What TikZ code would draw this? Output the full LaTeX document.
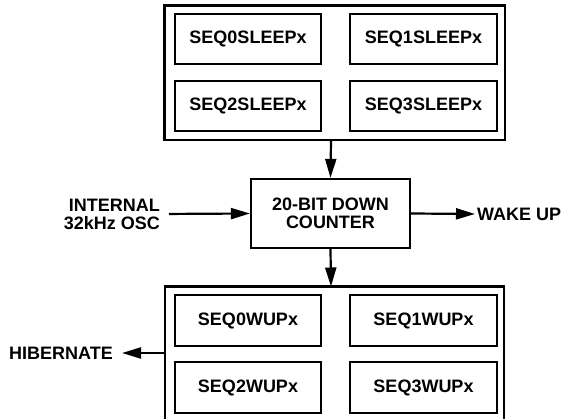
\documentclass[tikz,border=0pt]{standalone}
\usepackage{fontspec}
\setmainfont{Liberation Sans}
\usetikzlibrary{arrows.meta}
\begin{document}
\begin{tikzpicture}[x=1pt,y=-1pt,
  box/.style={draw,line width=2.2pt},
  lbl/.style={font=\bfseries\fontsize{18}{18}\selectfont,inner sep=0pt,align=center},
  arr/.style={line width=2.2pt,-{Triangle[length=19pt,width=11pt]}}]
\useasboundingbox (0,0) rectangle (571,419);
% top group
\draw[box] (164.5,5.5) rectangle (505,140);
\coordinate (topS) at (331,140);
\node[box,minimum width=146pt,minimum height=50pt,lbl] (s0) at (248,39) {SEQ0SLEEPx};
\node[box,minimum width=147pt,minimum height=50pt,lbl] (s1) at (423.5,39) {SEQ1SLEEPx};
\node[box,minimum width=146pt,minimum height=50pt,lbl] (s2) at (248,106) {SEQ2SLEEPx};
\node[box,minimum width=147pt,minimum height=50pt,lbl] (s3) at (423.5,106) {SEQ3SLEEPx};
% counter
\node[box,minimum width=159pt,minimum height=69pt,lbl] (cnt) at (330.5,213.5) {20-BIT DOWN\\COUNTER};
% bottom group
\draw[box] (165,286.5) rectangle (504,430);
\coordinate (botN) at (331,286.5);
\coordinate (botW) at (165,353);
\node[box,minimum width=146pt,minimum height=51pt,lbl] (w0) at (248,320.5) {SEQ0WUPx};
\node[box,minimum width=147pt,minimum height=51pt,lbl] (w1) at (423.5,320.5) {SEQ1WUPx};
\node[box,minimum width=146pt,minimum height=51pt,lbl] (w2) at (248,387.5) {SEQ2WUPx};
\node[box,minimum width=147pt,minimum height=51pt,lbl] (w3) at (423.5,387.5) {SEQ3WUPx};
% labels
\node[lbl,anchor=east,align=right] (osc) at (160,214) {INTERNAL\\32kHz OSC};
\node[lbl,anchor=west] (wake) at (477,214) {WAKE UP};
\node[lbl,anchor=east] (hib) at (113,353) {HIBERNATE};
% connectors
\draw[arr] (topS) -- (cnt.north);
\draw[arr] (cnt.south) -- (botN);
\draw[arr,shorten <=9pt] (osc.east) -- (cnt.west);
\draw[arr,shorten >=2pt] (cnt.east) -- (wake.west);
\draw[arr,shorten >=9pt] (botW) -- (hib.east);
\end{tikzpicture}
\end{document}
